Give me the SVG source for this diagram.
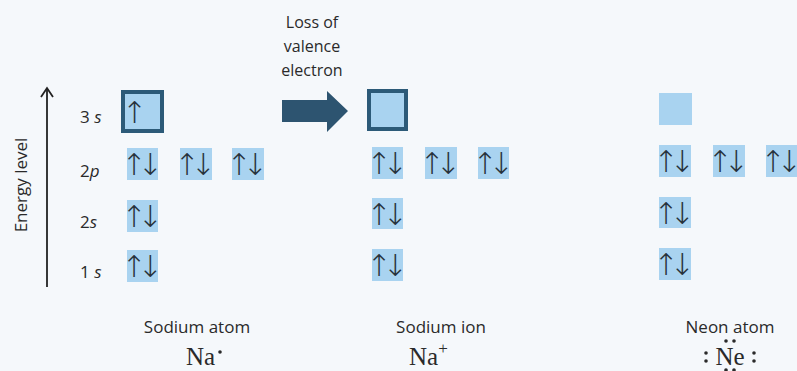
<svg xmlns="http://www.w3.org/2000/svg" width="797" height="371" viewBox="0 0 797 371">
<style>
.bg{fill:#f5f8fb}
.box{fill:#a9d3f0}
.hbox{fill:#a9d3f0;stroke:#2c5a78;stroke-width:4}
.e{font-family:"DejaVu Sans",sans-serif;font-weight:200;font-size:30px;fill:#27323c;letter-spacing:-9px}
.lvl{font-family:"Open Sans","Liberation Sans",sans-serif;font-size:17px;fill:#2a2a2a}
.it{font-style:italic}
.lab{font-family:"Open Sans","Liberation Sans",sans-serif;font-size:16px;fill:#2a2a2a;text-anchor:middle}
.lab2{font-size:17px}
.sym{font-family:"Liberation Serif",serif;font-size:25px;fill:#2a2a2a}
.dot{fill:#2a2a2a}
</style>
<rect class="bg" x="0" y="0" width="797" height="371"/>

<g id="axis">
<line x1="47" y1="287" x2="47" y2="89" stroke="#222" stroke-width="1.8"/>
<path d="M41,97 L47,88 L53,97" fill="none" stroke="#222" stroke-width="1.8"/>
<text class="lvl" transform="translate(27,185) rotate(-90)" text-anchor="middle">Energy level</text>
<text class="lvl" x="80" y="123">3 <tspan class="it">s</tspan></text>
<text class="lvl" x="80" y="177">2<tspan class="it">p</tspan></text>
<text class="lvl" x="80" y="228">2<tspan class="it">s</tspan></text>
<text class="lvl" x="80" y="278">1 <tspan class="it">s</tspan></text>
</g>

<g id="sodium-atom">
<rect class="hbox" x="123" y="92" width="39" height="39"/>
<text class="e" x="122" y="123">↑</text>
<rect class="box" x="127" y="148" width="31" height="32"/>
<text class="e" x="121.5" y="175">↑↓</text>
<rect class="box" x="180" y="148" width="32" height="32"/>
<text class="e" x="174.5" y="175">↑↓</text>
<rect class="box" x="232" y="148" width="32" height="32"/>
<text class="e" x="226.5" y="175">↑↓</text>
<rect class="box" x="127" y="200" width="31" height="32"/>
<text class="e" x="121.5" y="227">↑↓</text>
<rect class="box" x="127" y="250" width="31" height="32"/>
<text class="e" x="121.5" y="277">↑↓</text>
<text class="lab lab2" x="197" y="333">Sodium atom</text>
<text class="sym" x="186" y="365">Na</text>
<circle class="dot" cx="220" cy="352" r="1.8"/>
</g>

<g id="loss-arrow">
<text class="lab" x="312" y="28">Loss of</text>
<text class="lab" x="312" y="52">valence</text>
<text class="lab" x="312" y="76">electron</text>
<path d="M282,100 L327,100 L327,91 L348,111 L327,132 L327,122 L282,122 Z" fill="#2d5470"/>
</g>

<g id="sodium-ion">
<rect class="hbox" x="369" y="91" width="37" height="38"/>
<rect class="box" x="372" y="147" width="31" height="32"/>
<text class="e" x="366.5" y="174">↑↓</text>
<rect class="box" x="425" y="147" width="32" height="32"/>
<text class="e" x="419.5" y="174">↑↓</text>
<rect class="box" x="478" y="147" width="31" height="32"/>
<text class="e" x="472.5" y="174">↑↓</text>
<rect class="box" x="372" y="198" width="31" height="31"/>
<text class="e" x="366.5" y="225">↑↓</text>
<rect class="box" x="372" y="249" width="31" height="32"/>
<text class="e" x="366.5" y="276">↑↓</text>
<text class="lab lab2" x="441" y="333">Sodium ion</text>
<text class="sym" x="409" y="365">Na<tspan font-size="17" dy="-11">+</tspan></text>
</g>

<g id="neon-atom">
<rect class="box" x="659" y="93" width="33" height="32"/>
<rect class="box" x="659" y="145" width="32" height="32"/>
<text class="e" x="653.5" y="172">↑↓</text>
<rect class="box" x="713" y="145" width="32" height="32"/>
<text class="e" x="707.5" y="172">↑↓</text>
<rect class="box" x="766" y="145" width="31" height="32"/>
<text class="e" x="760.5" y="172">↑↓</text>
<rect class="box" x="659" y="197" width="32" height="31"/>
<text class="e" x="653.5" y="224">↑↓</text>
<rect class="box" x="659" y="248" width="32" height="32"/>
<text class="e" x="653.5" y="275">↑↓</text>
<text class="lab lab2" x="730" y="333">Neon atom</text>
<text class="sym" x="730" y="365" text-anchor="middle">Ne</text>
<circle class="dot" cx="706" cy="353" r="1.8"/>
<circle class="dot" cx="706" cy="361" r="1.8"/>
<circle class="dot" cx="754" cy="353" r="1.8"/>
<circle class="dot" cx="754" cy="361" r="1.8"/>
<circle class="dot" cx="726" cy="341" r="1.8"/>
<circle class="dot" cx="734" cy="341" r="1.8"/>
<circle class="dot" cx="726" cy="370" r="1.8"/>
<circle class="dot" cx="734" cy="370" r="1.8"/>
</g>
</svg>
